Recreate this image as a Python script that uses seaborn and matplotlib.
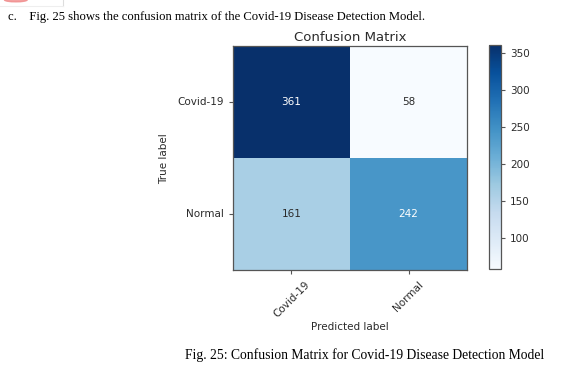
import matplotlib
matplotlib.use("Agg")
import matplotlib.pyplot as plt
from matplotlib.patches import Ellipse
import numpy as np
import seaborn as sns

classes = ["Covid-19", "Normal"]
row_covid = [361, 58]
row_normal = [161, 242]
cm = np.array([row_covid, row_normal])

intro_text = "c.    Fig. 25 shows the confusion matrix of the Covid-19 Disease Detection Model."
caption_text = "Fig. 25: Confusion Matrix for Covid-19 Disease Detection Model"

fig = plt.figure(figsize=(5.65, 3.67), dpi=100)
ax = fig.add_axes([0.412, 0.264, 0.415, 0.610])
cax = fig.add_axes([0.866, 0.266, 0.021, 0.612])

txt_col = "#2b2b2b"
sns.heatmap(cm, annot=True, fmt="d", cmap="Blues", ax=ax, cbar_ax=cax,
            xticklabels=classes, yticklabels=classes,
            annot_kws={"fontsize": 7.5})

# annotations: white on dark cells, dark on light cells
for t, v in zip(ax.texts, cm.flatten()):
    t.set_color("white" if v > cm.max() / 2 else txt_col)

for s in ax.spines.values():
    s.set_visible(True)
    s.set_color("#555555")
    s.set_linewidth(0.9)

ax.tick_params(axis="both", length=3, width=0.8, colors="#555555",
               labelcolor=txt_col, labelsize=7.5)
ax.set_xticklabels(classes, rotation=45, ha="center", rotation_mode="default")
ax.set_yticklabels(classes, rotation=0, va="center")
ax.set_title("Confusion Matrix", fontsize=9.5, color=txt_col, pad=4)
ax.set_xlabel("Predicted label", fontsize=7.5, color=txt_col, labelpad=2)
ax.set_ylabel("True label", fontsize=7.5, color=txt_col, labelpad=6)

cbar = ax.collections[0].colorbar
cbar.outline.set_linewidth(0.9)
cbar.outline.set_edgecolor("#555555")
cbar.set_ticks([100, 150, 200, 250, 300, 350])
cax.tick_params(length=3, width=0.8, colors="#555555", labelcolor=txt_col,
                labelsize=7.5)

# document text around the chart
fig.text(0.014, 0.953, intro_text, family="Liberation Serif", fontsize=9.1,
         color="black", va="center", ha="left")
fig.text(0.327, 0.032, caption_text, family="Liberation Serif", fontsize=9.8,
         color="black", va="center", ha="left")

# fragment of an image border/logo cut off at the top
fig.patches.append(Ellipse((0.028, 1.0), 0.04, 0.010, transform=fig.transFigure,
                           color="#f08a8a", alpha=0.8, figure=fig))
fig.add_artist(plt.Line2D([0.111, 0.111], [0.983, 1.0], color="#dddddd", lw=0.8,
                          transform=fig.transFigure))
fig.add_artist(plt.Line2D([0.0, 0.111], [0.983, 0.983], color="#eeeeee", lw=0.8,
                          transform=fig.transFigure))

fig.savefig("out.png", dpi=100)
